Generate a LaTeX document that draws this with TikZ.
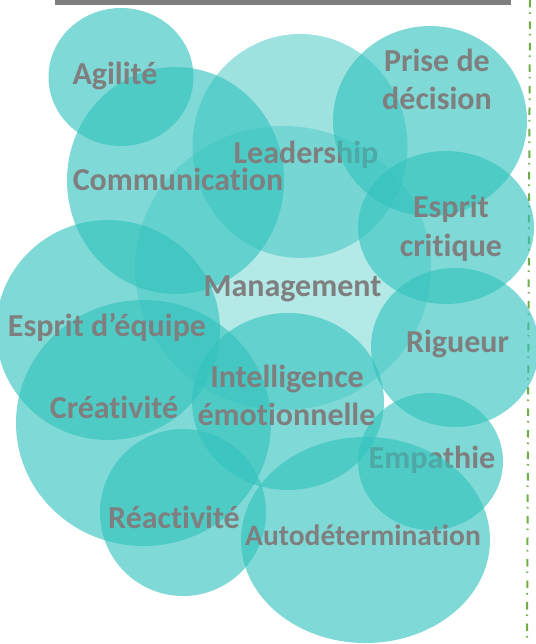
\documentclass[tikz,border=0pt]{standalone}
\usepackage{fontspec}
\setmainfont{Carlito}[RawFeature={-liga;-clig}]
\definecolor{teal1}{RGB}{50,194,189}
\definecolor{lbl}{RGB}{127,127,127}
\definecolor{bar}{RGB}{127,127,127}
\definecolor{grn}{RGB}{112,173,71}
\tikzset{
  bub/.style={fill=teal1, fill opacity=0.625},
  bublight/.style={fill=teal1, fill opacity=0.48},
  bubpale/.style={fill=teal1, fill opacity=0.37},
  lab/.style={text=lbl, font=\fontsize{32}{39}\selectfont\bfseries, inner sep=0pt, anchor=base, align=center}
}
\begin{document}
\begin{tikzpicture}[x=1pt,y=-1pt]
\useasboundingbox (0,0) rectangle (535,644);
% top bar and separator
\fill[bar] (55,0) rectangle (511,5);
\coordinate (sepTop) at (530,0);
\coordinate (sepBot) at (527,644);
\draw[grn, line width=2pt, dash pattern=on 7.5pt off 5pt on 1.5pt off 7.5pt] (sepTop) -- (sepBot);
% bubbles
\fill[bubpale] (283,268) ellipse [x radius=148, y radius=142];
\fill[bublight] (300,146) ellipse [x radius=107.5, y radius=112];
\fill[bub] (121,77) ellipse [x radius=72.5, y radius=69];
\fill[bub] (175.5,180.5) ellipse [x radius=108.5, y radius=113.5];
\fill[bub] (446,227.5) ellipse [x radius=88, y radius=76.5];
\fill[bub] (455,347.5) ellipse [x radius=84, y radius=79.5];
\fill[bub] (108,330) ellipse [x radius=112, y radius=110];
\fill[bub] (143.5,423) ellipse [x radius=127.5, y radius=123];
\fill[bub] (288,401.5) ellipse [x radius=96, y radius=88.5];
\fill[bub] (183,512.5) ellipse [x radius=83, y radius=83.5];
\fill[bub] (430.5,461.5) ellipse [x radius=72.5, y radius=68.5];
% labels partly covered
\node[lab] (leader) at (306,164) {Leadership};
\node[lab] (empathie) at (432,468) {Empathie};
% covering bubbles
\fill[bub] (430,121) ellipse [x radius=97, y radius=95];
\fill[bub] (365.5,540) ellipse [x radius=124.5, y radius=103];
% remaining labels
\node[lab] (agilite) at (115,85) {Agilité};
\node[lab] (prise1) at (437,71.7) {Prise de};
\node[lab] (prise2) at (437,110) {décision};
\node[lab] (comm) at (178,190.7) {Communication};
\node[lab] (esprit1) at (451,217) {Esprit};
\node[lab] (esprit2) at (451,256) {critique};
\node[lab] (manage) at (292.5,296.7) {Management};
\node[lab] (equipe) at (107,336.7) {Esprit d’équipe};
\node[lab] (rigueur) at (457.5,352.7) {Rigueur};
\node[lab] (intel1) at (287,387) {Intelligence};
\node[lab] (intel2) at (286.5,425) {émotionnelle};
\node[lab] (creat) at (114,418) {Créativité};
\node[lab] (reac) at (174,528.7) {Réactivité};
\node[lab, font=\fontsize{29.5}{36}\selectfont\bfseries] (auto) at (363,545) {Autodétermination};
\end{tikzpicture}
\end{document}
